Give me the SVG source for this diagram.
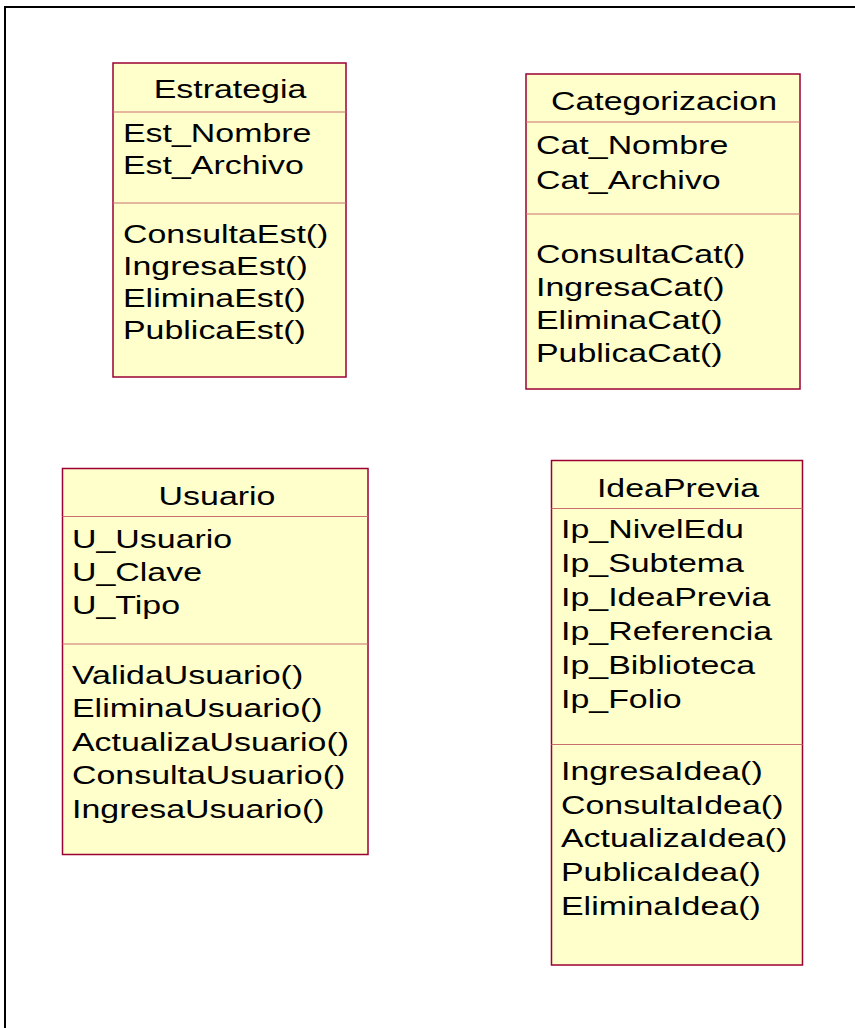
<svg xmlns="http://www.w3.org/2000/svg" width="855" height="1028" viewBox="0 0 855 1028">
<style>
.box{fill:#FFFFCC;stroke:#9B0033;stroke-width:1.5}
.div{stroke:#C87070;stroke-width:1.2;fill:none}
text{font-family:"Liberation Sans",Arial,sans-serif;font-size:25.5px;fill:#000}
.h{text-anchor:middle}
</style>
<rect x="0" y="0" width="855" height="1028" fill="#FFFFFF"/>
<path d="M5,1030 V7 H857" fill="none" stroke="#000" stroke-width="2"/>
<g id="connectors"/>
<g id="Estrategia">
<rect class="box" x="113" y="63" width="233" height="314"/>
<line class="div" x1="113" y1="112" x2="346" y2="112"/>
<line class="div" x1="113" y1="203" x2="346" y2="203"/>
<text class="h" transform="translate(230,98) scale(1.33 1)">Estrategia</text>
<text transform="translate(123,141.5) scale(1.33 1)">Est_Nombre</text>
<text transform="translate(123,173.5) scale(1.33 1)">Est_Archivo</text>
<text transform="translate(123,243) scale(1.33 1)">ConsultaEst()</text>
<text transform="translate(123,275) scale(1.33 1)">IngresaEst()</text>
<text transform="translate(123,307) scale(1.33 1)">EliminaEst()</text>
<text transform="translate(123,339) scale(1.33 1)">PublicaEst()</text>
</g>
<g id="Categorizacion">
<rect class="box" x="526" y="74" width="274" height="315"/>
<line class="div" x1="526" y1="122" x2="800" y2="122"/>
<line class="div" x1="526" y1="214" x2="800" y2="214"/>
<text class="h" transform="translate(664,110) scale(1.33 1)">Categorizacion</text>
<text transform="translate(536,154) scale(1.33 1)">Cat_Nombre</text>
<text transform="translate(536,189) scale(1.33 1)">Cat_Archivo</text>
<text transform="translate(536,262.5) scale(1.33 1)">ConsultaCat()</text>
<text transform="translate(536,295.5) scale(1.33 1)">IngresaCat()</text>
<text transform="translate(536,329) scale(1.33 1)">EliminaCat()</text>
<text transform="translate(536,362) scale(1.33 1)">PublicaCat()</text>
</g>
<g id="Usuario">
<rect class="box" x="62.5" y="468.5" width="305.5" height="386"/>
<line class="div" x1="62.5" y1="516.5" x2="368" y2="516.5"/>
<line class="div" x1="62.5" y1="644" x2="368" y2="644"/>
<text class="h" transform="translate(217,504.5) scale(1.33 1)">Usuario</text>
<text transform="translate(72,547.5) scale(1.33 1)">U_Usuario</text>
<text transform="translate(72,580.5) scale(1.33 1)">U_Clave</text>
<text transform="translate(72,613.5) scale(1.33 1)">U_Tipo</text>
<text transform="translate(72,683.5) scale(1.33 1)">ValidaUsuario()</text>
<text transform="translate(72,717) scale(1.33 1)">EliminaUsuario()</text>
<text transform="translate(72,750.5) scale(1.33 1)">ActualizaUsuario()</text>
<text transform="translate(72,784) scale(1.33 1)">ConsultaUsuario()</text>
<text transform="translate(72,817.5) scale(1.33 1)">IngresaUsuario()</text>
</g>
<g id="IdeaPrevia">
<rect class="box" x="551.5" y="460.5" width="251" height="504.5"/>
<line class="div" x1="551.5" y1="508.5" x2="802.5" y2="508.5"/>
<line class="div" x1="551.5" y1="744.5" x2="802.5" y2="744.5"/>
<text class="h" transform="translate(678,497) scale(1.33 1)">IdeaPrevia</text>
<text transform="translate(561,537.5) scale(1.33 1)">Ip_NivelEdu</text>
<text transform="translate(561,571.5) scale(1.33 1)">Ip_Subtema</text>
<text transform="translate(561,605.5) scale(1.33 1)">Ip_IdeaPrevia</text>
<text transform="translate(561,639.5) scale(1.33 1)">Ip_Referencia</text>
<text transform="translate(561,673.5) scale(1.33 1)">Ip_Biblioteca</text>
<text transform="translate(561,707.5) scale(1.33 1)">Ip_Folio</text>
<text transform="translate(561,780) scale(1.33 1)">IngresaIdea()</text>
<text transform="translate(561,813.5) scale(1.33 1)">ConsultaIdea()</text>
<text transform="translate(561,847) scale(1.33 1)">ActualizaIdea()</text>
<text transform="translate(561,881) scale(1.33 1)">PublicaIdea()</text>
<text transform="translate(561,914.5) scale(1.33 1)">EliminaIdea()</text>
</g>
</svg>
